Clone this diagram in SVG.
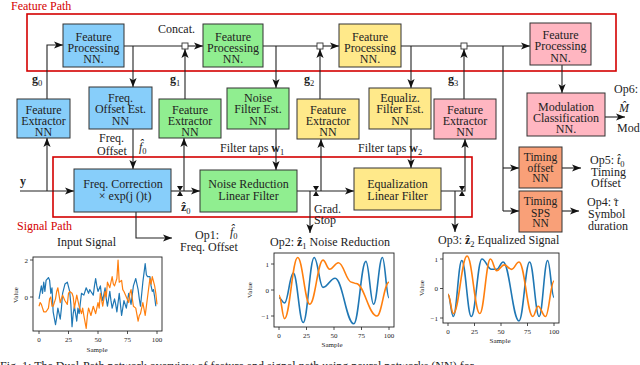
<svg xmlns="http://www.w3.org/2000/svg" width="640" height="365" viewBox="0 0 640 365">
<defs>
<marker id="ah" viewBox="0 0 10 8" refX="10" refY="4" markerWidth="9" markerHeight="7.2" orient="auto" markerUnits="userSpaceOnUse">
<path d="M0,0 L10,4 L0,8 L2.5,4 Z" fill="#111"/>
</marker>
<style>
.bx{stroke:#333;stroke-width:1}
.blue{fill:#87cefa}.green{fill:#90ee90}.yellow{fill:#ffe98a}.pink{fill:#ffb6c1}.orange{fill:#f9a078}
.t{font-family:"Liberation Serif",serif;font-size:12px;text-anchor:middle;fill:#222}
.tt{font-family:"Liberation Serif",serif;font-size:11.5px;text-anchor:middle;fill:#222}
.l{font-family:"Liberation Serif",serif;font-size:12px;fill:#222}
.b{font-weight:bold}
.i{font-style:italic}
.ln{stroke:#222;stroke-width:1.1;fill:none}
.ar{stroke:#222;stroke-width:1.1;fill:none;marker-end:url(#ah)}
.red{fill:none;stroke:#d40000;stroke-width:1.6}
.redt{font-family:"Liberation Serif",serif;font-size:12px;fill:#d40000}
.sq{fill:#fff;stroke:#333;stroke-width:0.9}
.gs{fill:#111}
.frame{fill:#fff;stroke:#222;stroke-width:0.9}
.tk{stroke:#222;stroke-width:0.8}
.tl{font-family:"Liberation Serif",serif;font-size:7px;fill:#222;text-anchor:middle}
.tly{font-family:"Liberation Serif",serif;font-size:7px;fill:#222;text-anchor:end}
.c1{fill:none;stroke:#1f77b4;stroke-width:1.2;vector-effect:non-scaling-stroke;stroke-linejoin:round}
.c2{fill:none;stroke:#ff7f0e;stroke-width:1.2;vector-effect:non-scaling-stroke;stroke-linejoin:round}
.s1{fill:none;stroke:#1f77b4;stroke-width:1.6;vector-effect:non-scaling-stroke}
.s2{fill:none;stroke:#ff7f0e;stroke-width:1.6;vector-effect:non-scaling-stroke}
</style>
</defs>
<rect width="640" height="365" fill="#fff"/>

<!-- path frames -->
<g id="feature-path">
<rect class="red" x="27" y="14" width="589" height="57"/>
<text class="redt" x="11" y="10">Feature Path</text>
</g>
<g id="signal-path">
<rect class="red" x="53" y="157" width="419" height="60"/>
<text class="redt" x="17" y="230">Signal Path</text>
</g>

<!-- connectors -->
<g id="connectors">
<path class="ar" d="M47,99 V45 H63"/>
<path class="ln" d="M124,46 H182"/>
<path class="ar" d="M188,46 H203"/>
<path class="ar" d="M133,46 V87"/>
<path class="ar" d="M133,129 V169"/>
<path class="ar" d="M185,99 V49"/>
<path class="ln" d="M263,46 H317"/>
<path class="ar" d="M323,46 H339"/>
<path class="ar" d="M276,46 V88"/>
<path class="ar" d="M276,129 V170"/>
<path class="ar" d="M320,99 V49"/>
<path class="ln" d="M401,46 H461"/>
<path class="ar" d="M467,46 H530"/>
<path class="ar" d="M411,46 V88"/>
<path class="ar" d="M411,129 V168"/>
<path class="ar" d="M464,99 V49"/>
<path class="ln" d="M503,46 V211"/>
<path class="ar" d="M503,168 H519"/>
<path class="ar" d="M503,211 H519"/>
<path class="ar" d="M562,65 V93"/>
<path class="ar" d="M605,117 H625"/>
<path class="ar" d="M562,168 H581"/>
<path class="ar" d="M562,211 H579"/>
<path class="ar" d="M20,191 H74"/>
<path class="ar" d="M47,191 V138"/>
<path class="ar" d="M171,191 H200"/>
<path class="ar" d="M184,191 V138"/>
<path class="ar" d="M136,212 V238 H172"/>
<path class="ar" d="M297,191 H354"/>
<path class="ar" d="M310,191 V233"/>
<path class="ar" d="M321,191 V139"/>
<path class="ar" d="M441,191 H465 V139"/>
<path class="ar" d="M455,191 V232"/>
<rect class="sq" x="182" y="43" width="6" height="6"/>
<rect class="sq" x="317" y="43" width="6" height="6"/>
<rect class="sq" x="461" y="43" width="6" height="6"/>
<path class="gs" d="M177,186 H183 L180,191 Z M177,196 H183 L180,191 Z"/>
<path class="gs" d="M313,186 H319 L316,191 Z M313,196 H319 L316,191 Z"/>
<path class="gs" d="M459,186 H465 L462,191 Z M459,196 H465 L462,191 Z"/>
</g>

<!-- nodes -->
<g id="fp1"><rect class="bx blue" x="63" y="24" width="61" height="43"/>
<text class="t" x="93.5" y="40.5">Feature</text><text class="t" x="93.5" y="52">Processing</text><text class="t" x="93.5" y="63">NN.</text></g>
<g id="fp2"><rect class="bx green" x="203" y="24" width="60" height="43"/>
<text class="t" x="233" y="40.5">Feature</text><text class="t" x="233" y="52">Processing</text><text class="t" x="233" y="63">NN.</text></g>
<g id="fp3"><rect class="bx yellow" x="339" y="24" width="62" height="43"/>
<text class="t" x="370" y="40.5">Feature</text><text class="t" x="370" y="52">Processing</text><text class="t" x="370" y="63">NN.</text></g>
<g id="fp4"><rect class="bx pink" x="530" y="23" width="61" height="42"/>
<text class="t" x="560.5" y="38.5">Feature</text><text class="t" x="560.5" y="50">Processing</text><text class="t" x="560.5" y="61.5">NN.</text></g>

<g id="fe0"><rect class="bx blue" x="17" y="99" width="53" height="39"/>
<text class="t" x="43.5" y="114">Feature</text><text class="t" x="43.5" y="125">Extractor</text><text class="t" x="43.5" y="136">NN</text></g>
<g id="fe1"><rect class="bx green" x="159" y="99" width="62" height="39"/>
<text class="t" x="190" y="114">Feature</text><text class="t" x="190" y="125">Extractor</text><text class="t" x="190" y="136">NN</text></g>
<g id="fe2"><rect class="bx yellow" x="297" y="99" width="62" height="40"/>
<text class="t" x="328" y="114">Feature</text><text class="t" x="328" y="125">Extractor</text><text class="t" x="328" y="136">NN</text></g>
<g id="fe3"><rect class="bx pink" x="434" y="99" width="62" height="40"/>
<text class="t" x="465" y="114">Feature</text><text class="t" x="465" y="125">Extractor</text><text class="t" x="465" y="136">NN</text></g>

<g id="freq-est"><rect class="bx blue" x="89" y="87" width="63" height="42"/>
<text class="t" x="120.5" y="102">Freq.</text><text class="t" x="120.5" y="113">Offset Est.</text><text class="t" x="120.5" y="124.5">NN</text></g>
<g id="noise-est"><rect class="bx green" x="227" y="88" width="62" height="41"/>
<text class="t" x="258" y="102">Noise</text><text class="t" x="258" y="113">Filter Est.</text><text class="t" x="258" y="124.5">NN</text></g>
<g id="eq-est"><rect class="bx yellow" x="369" y="88" width="62" height="41"/>
<text class="t" x="400" y="102">Equaliz.</text><text class="t" x="400" y="113">Filter Est.</text><text class="t" x="400" y="124.5">NN</text></g>

<g id="mod"><rect class="bx pink" x="527" y="93" width="78" height="43"/>
<text class="t" x="566" y="110.5">Modulation</text><text class="t" x="566" y="121.5">Classification</text><text class="t" x="566" y="133">NN.</text></g>
<g id="timing-offset"><rect class="bx orange" x="519" y="147" width="43" height="41"/>
<text class="tt" x="540.5" y="160.5">Timing</text><text class="tt" x="540.5" y="171.5">offset</text><text class="tt" x="540.5" y="182">NN</text></g>
<g id="timing-sps"><rect class="bx orange" x="519" y="191" width="43" height="41"/>
<text class="tt" x="540.5" y="205">Timing</text><text class="tt" x="540.5" y="216.5">SPS</text><text class="tt" x="540.5" y="227">NN</text></g>

<g id="freq-corr"><rect class="bx blue" x="74" y="169" width="97" height="43"/>
<text class="t" x="123" y="188">Freq. Correction</text><text class="t" x="125" y="200">×  exp(j ()t)</text></g>
<g id="noise-red"><rect class="bx green" x="200" y="170" width="97" height="42"/>
<text class="t" x="248.5" y="188">Noise Reduction</text><text class="t" x="248.5" y="199.5">Linear Filter</text></g>
<g id="equal"><rect class="bx yellow" x="354" y="168" width="87" height="42"/>
<text class="t" x="397.5" y="188">Equalization</text><text class="t" x="397.5" y="200">Linear Filter</text></g>

<!-- labels -->
<g id="labels">
<text class="l" x="158" y="32.5">Concat.</text>
<text class="l" x="32" y="83"><tspan class="b">g</tspan><tspan font-size="8.5" dy="3">0</tspan></text>
<text class="l" x="170" y="83"><tspan class="b">g</tspan><tspan font-size="8.5" dy="3">1</tspan></text>
<text class="l" x="304" y="83"><tspan class="b">g</tspan><tspan font-size="8.5" dy="3">2</tspan></text>
<text class="l" x="448" y="83"><tspan class="b">g</tspan><tspan font-size="8.5" dy="3">3</tspan></text>
<text class="l" x="99" y="141.5">Freq.</text>
<text class="l" x="97" y="154.5">Offset</text>
<text class="l" x="139" y="151"><tspan class="i">f̂</tspan><tspan font-size="8.5" dy="3">0</tspan></text>
<text class="l" x="220" y="151.5">Filter taps <tspan class="b">w</tspan><tspan font-size="8.5" dy="3">1</tspan></text>
<text class="l" x="358" y="151.5">Filter taps <tspan class="b">w</tspan><tspan font-size="8.5" dy="3">2</tspan></text>
<text class="l b" x="20" y="185">y</text>
<text class="l" x="181" y="211"><tspan class="b">ẑ</tspan><tspan font-size="8.5" dy="3">0</tspan></text>
<text class="l" x="314" y="213" font-size="11">Grad.</text>
<text class="l" x="314" y="223.5" font-size="11">Stop</text>
<text class="l" x="195" y="238.5">Op1:</text>
<text class="l" x="230" y="236"><tspan class="i">f̂</tspan><tspan font-size="8.5" dy="2.5">0</tspan></text>
<text class="l" x="180" y="251">Freq. Offset</text>
<text class="l" x="614" y="93">Op6:</text>
<text class="l i" x="619" y="111.5">M̂</text>
<text class="l" x="617" y="131.5">Mod</text>
<text class="l" x="590" y="163.5">Op5: <tspan class="i">t̂</tspan><tspan font-size="8.5" dy="3">0</tspan></text>
<text class="l" x="591" y="175.5">Timing</text>
<text class="l" x="591" y="187">Offset</text>
<text class="l" x="587" y="206">Op4: <tspan class="i">τ</tspan><tspan dx="-4.8" dy="-0.5" font-size="11">ˆ</tspan></text>
<text class="l" x="588" y="218">Symbol</text>
<text class="l" x="588" y="230">duration</text>
<text class="l" x="0" y="370" font-size="11">Fig. 1: The Dual-Path network overview of feature and signal path using neural networks (NN) for</text>
</g>

<!-- plot: input signal -->
<g id="plot-input">
<text class="l" x="57" y="246">Input Signal</text>
<rect class="frame" x="33" y="257" width="129" height="74"/>
<g transform="translate(39,297) scale(1.18,-18.5)">
<polyline class="c1" points="0,-0.1 2,0.6 3,0.2 4,0.8 5,0.3 6,0.9 8,1.05 9,0.9 10,0.2 11,0.5 12,-0.8 14,-1.5 15,-1.1 16,-0.6 18,-1.2 19,-0.6 20,0.2 22,0.7 24,0.8 26,0.3 27,-0.4 28,-1.6 29,-0.9 30,-0.5 32,-1.3 33,-0.6 34,-0.9 36,0.2 38,0.1 40,0.5 42,0.2 43,0.4 44,0.3 46,0.1 47,0.6 48,1.0 49,0.6 50,0.3 52,0.6 53,0.1 54,-0.2 56,0.5 57,-0.1 58,-0.5 60,0.3 61,-0.2 62,-0.6 64,-0.1 65,-0.4 66,-0.8 68,0.2 69,-0.4 70,-1.0 72,-0.2 74,-0.6 76,0.2 78,-0.4 79,0.1 80,0.6 82,1.0 84,0.4 85,-0.1 86,-0.5 88,0.8 90,1.8 91,1.2 92,1.1 94,1.1 95,0.6 96,0.3 97,0.4 98,0.0 99,-0.5"/>
<polyline class="c2" points="0,-0.5 1,-0.3 2,-0.4 4,-0.8 6,-0.8 8,-0.6 9,-0.1 10,0.0 11,-0.5 12,-0.5 14,-0.1 15,0.3 16,0.5 17,0.1 18,-0.3 20,0.1 22,-0.2 24,-0.4 25,0.2 26,0.3 28,0.2 29,0.0 30,-0.6 32,0.1 34,-0.5 36,-0.9 37,-0.6 38,-1.0 40,-1.7 41,-1.0 42,-0.6 44,-1.0 46,-0.5 48,-0.9 50,-0.3 51,-0.6 52,0.2 54,-0.5 56,0.3 57,0.0 58,0.8 60,0.5 62,1.1 63,0.7 64,0.6 66,1.0 67,2.0 68,0.8 70,0.9 71,0.4 72,0.3 74,0.0 76,-0.3 77,0.2 78,0.4 80,-0.5 82,-0.6 84,-1.3 85,-1.0 86,-0.9 88,-0.3 90,-1.0 91,-0.5 92,0.0 94,1.0 95,0.7 96,1.1 98,0.6 99,0.2 100,-0.4"/>
</g>
<path class="tk" d="M33,260 h-3 M33,297 h-3 M39,331 v3 M68.5,331 v3 M98,331 v3 M127.5,331 v3 M157,331 v3"/>
<text class="tly" x="28" y="262.5">2</text><text class="tly" x="28" y="299.5">0</text>
<text class="tl" x="39" y="342">0</text><text class="tl" x="68.5" y="342">25</text><text class="tl" x="98" y="342">50</text><text class="tl" x="127.5" y="342">75</text><text class="tl" x="157" y="342">100</text>
<text class="tl" x="97" y="352">Sample</text>
<text class="tl" transform="translate(18,295) rotate(-90)">Value</text>
</g>

<!-- plot: op2 -->
<g id="plot-op2">
<text class="l" x="270" y="246">Op2: <tspan class="b">ẑ</tspan><tspan font-size="8.5" dy="3">1</tspan><tspan dy="-3"> Noise Reduction</tspan></text>
<rect class="frame" x="274" y="253" width="120" height="74"/>
<g transform="translate(279,290) scale(1.1,-26)">
<path class="s1" d="M0,-0.3 C2,-0.3 3,-0.5 5,-0.5 C8.2,-0.5 9.8,0.65 13,0.65 C16.6,0.65 18.4,-1.25 22,-1.25 C26,-1.25 28,1.25 32,1.25 C35.2,1.25 36.8,0.1 40,0.1 C44.4,0.1 46.6,0.45 51,0.45 C57.8,0.45 61.2,-1.3 68,-1.3 C72.4,-1.3 74.6,1.1 79,1.1 C81.8,1.1 83.2,-0.55 86,-0.55 C89.2,-0.55 90.8,1.25 94,1.25 C96.4,1.25 97.6,-0.3 100,-0.3"/>
<path class="s2" d="M0,-0.2 C2,-0.2 3,-1.1 5,-1.1 C9.8,-1.1 12.2,1.25 17,1.25 C21.4,1.25 23.6,-0.55 28,-0.55 C32.8,-0.55 35.2,1.15 40,1.15 C42.4,1.15 43.6,0.8 46,0.8 C49.2,0.8 50.8,1.05 54,1.05 C58.8,1.05 61.2,0.3 66,0.3 C67.6,0.3 68.4,0.25 70,0.25 C77.6,0.25 81.4,-1.0 89,-1.0 C93.4,-1.0 95.6,0.3 100,0.3"/>
</g>
<path class="tk" d="M274,264 h-3 M274,290 h-3 M274,316 h-3 M279,327 v3 M306.5,327 v3 M334,327 v3 M361.5,327 v3 M389,327 v3"/>
<text class="tly" x="269" y="266.5">1</text><text class="tly" x="269" y="292.5">0</text><text class="tly" x="269" y="318.5">−1</text>
<text class="tl" x="279" y="338">0</text><text class="tl" x="306.5" y="338">25</text><text class="tl" x="334" y="338">50</text><text class="tl" x="361.5" y="338">75</text><text class="tl" x="389" y="338">100</text>
<text class="tl" x="332" y="347">Sample</text>
<text class="tl" transform="translate(252,290) rotate(-90)">Value</text>
</g>

<!-- plot: op3 -->
<g id="plot-op3">
<text class="l" x="438" y="244">Op3: <tspan class="b">ẑ</tspan><tspan font-size="8.5" dy="3">2</tspan><tspan dy="-3"> Equalized Signal</tspan></text>
<rect class="frame" x="443" y="253" width="116" height="70"/>
<g transform="translate(448,288.5) scale(1.06,-29.5)">
<path class="s1" d="M0,-0.2 C2,-0.2 3,-0.95 5,-0.95 C8.2,-0.95 9.8,0.95 13,0.95 C16.6,0.95 18.4,-0.95 22,-0.95 C26,-0.95 28,1 32,1 C35.6,1 37.4,0.65 41,0.65 C43,0.65 44,0.65 46,0.65 C48.4,0.65 49.6,0.9 52,0.9 C58,0.9 61,-1.1 67,-1.1 C71,-1.1 73,0.9 77,0.9 C80.6,0.9 82.4,-0.95 86,-0.95 C89.2,-0.95 90.8,0.95 94,0.95 C96.4,0.95 97.6,-0.3 100,-0.3"/>
<path class="s2" d="M0,-0.2 C2,-0.2 3,-0.85 5,-0.85 C10.2,-0.85 12.8,1.1 18,1.1 C22.8,1.1 25.2,-0.85 30,-0.85 C34,-0.85 36,1 40,1 C42.4,1 43.6,0.6 46,0.6 C48.8,0.6 50.2,0.8 53,0.8 C55.8,0.8 57.2,0.65 60,0.65 C62.8,0.65 64.2,0.9 67,0.9 C72.2,0.9 74.8,-0.95 80,-0.95 C82,-0.95 83,-0.6 85,-0.6 C87.8,-0.6 89.2,-0.95 92,-0.95 C95.2,-0.95 96.8,0.25 100,0.25"/>
</g>
<path class="tk" d="M443,259 h-3 M443,288.5 h-3 M443,318 h-3 M448,323 v3 M474.5,323 v3 M501,323 v3 M527.5,323 v3 M554,323 v3"/>
<text class="tly" x="438" y="261.5">1</text><text class="tly" x="438" y="291">0</text><text class="tly" x="438" y="320.5">−1</text>
<text class="tl" x="448" y="334">0</text><text class="tl" x="474.5" y="334">25</text><text class="tl" x="501" y="334">50</text><text class="tl" x="527.5" y="334">75</text><text class="tl" x="554" y="334">100</text>
<text class="tl" x="500" y="343">Sample</text>
<text class="tl" transform="translate(424,288) rotate(-90)">Value</text>
</g>
</svg>
